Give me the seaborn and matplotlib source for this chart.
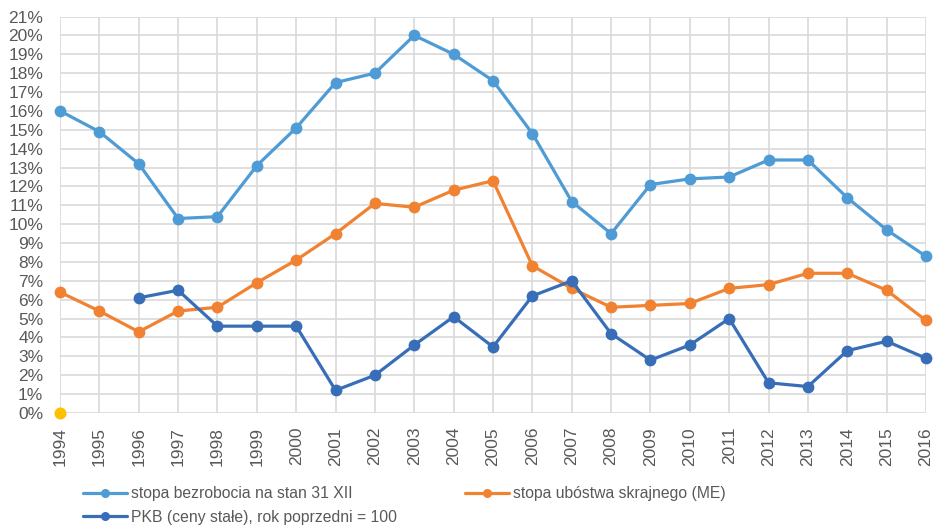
import numpy as np
import pandas as pd
import seaborn as sns
from matplotlib import pyplot as plt
from matplotlib.lines import Line2D

years = list(range(1994, 2017))

# stopa bezrobocia (%)
unemployment = [16.0, 14.9, 13.2, 10.3, 10.4, 13.1, 15.1, 17.5, 18.0, 20.0, 19.0, 17.6,
                14.8, 11.2, 9.5, 12.1, 12.4, 12.5, 13.4, 13.4, 11.4, 9.7, 8.3]
# stopa ubostwa skrajnego (%)
poverty = [6.4, 5.4, 4.3, 5.4, 5.6, 6.9, 8.1, 9.5, 11.1, 10.9, 11.8, 12.3,
           7.8, 6.6, 5.6, 5.7, 5.8, 6.6, 6.8, 7.4, 7.4, 6.5, 4.9]
# PKB (ceny stale), rok poprzedni = 100 -> dynamika (%)
gdp = [np.nan, np.nan, 6.1, 6.5, 4.6, 4.6, 4.6, 1.2, 2.0, 3.6, 5.1, 3.5,
       6.2, 7.0, 4.2, 2.8, 3.6, 5.0, 1.6, 1.4, 3.3, 3.8, 2.9]
# lone point in the source chart
extra_years = [1994]
extra_values = [0.0]

series_names = ["stopa bezrobocia na stan 31 XII",
                "stopa ubóstwa skrajnego (ME)",
                "PKB (ceny stałe), rok poprzedni = 100"]
colors = ["#4E9BD5", "#F08232", "#386DB8"]

frames = []
for name, vals in zip(series_names, [unemployment, poverty, gdp]):
    frames.append(pd.DataFrame({"rok": years, "wartosc": vals, "seria": name}))
data = pd.concat(frames).dropna()

sns.set_style("white")
plt.rcParams["font.family"] = ["Liberation Sans", "DejaVu Sans"]

fig = plt.figure(figsize=(9.36, 5.27), dpi=100)
ax = fig.add_axes([60 / 936, 1 - 413 / 527, 866 / 936, 396.5 / 527])

sns.lineplot(data=data, x="rok", y="wartosc", hue="seria", hue_order=series_names,
             palette=colors, marker="o", markersize=8.5, markeredgewidth=0,
             linewidth=2.3, ax=ax, legend=False, zorder=3)
for line in ax.lines:
    line.set_clip_on(False)

ax.scatter(extra_years, extra_values, color="#FFC000", s=75, zorder=4, clip_on=False, linewidths=0)

ax.set_xlim(1994, 2016)
ax.set_ylim(0, 21)
ax.set_xticks(years)
ax.set_xticklabels([str(y) for y in years], rotation=90)
ax.set_yticks(range(0, 22))
ax.set_yticklabels([f"{v}%" for v in range(0, 22)])
ax.tick_params(axis="both", length=0, labelcolor="#595959")
ax.tick_params(axis="x", pad=10, labelsize=12.5)
ax.tick_params(axis="y", pad=12, labelsize=12.5)
ax.grid(True, color="#D9D9D9", linewidth=1.2, zorder=0)
ax.set_axisbelow(True)
for s in ax.spines.values():
    s.set_visible(False)
ax.set_xlabel("")
ax.set_ylabel("")

handles = [Line2D([], [], color=c, linewidth=2.3, marker="o", markersize=6.5, markeredgewidth=0)
           for c in colors]
legend_font = {"size": 11.3}
leg1 = fig.legend([handles[0], handles[2]], [series_names[0], series_names[2]],
                  loc="upper left", bbox_to_anchor=(83 / 936, 1 - 486 / 527),
                  frameon=False, handlelength=2.8, handletextpad=0.25,
                  labelspacing=0.55, borderpad=0, borderaxespad=0,
                  prop=legend_font, labelcolor="#595959")
leg2 = fig.legend([handles[1]], [series_names[1]],
                  loc="upper left", bbox_to_anchor=(465 / 936, 1 - 486 / 527),
                  frameon=False, handlelength=2.8, handletextpad=0.25,
                  borderpad=0, borderaxespad=0,
                  prop=legend_font, labelcolor="#595959")

plt.savefig("out.png", dpi=100)
